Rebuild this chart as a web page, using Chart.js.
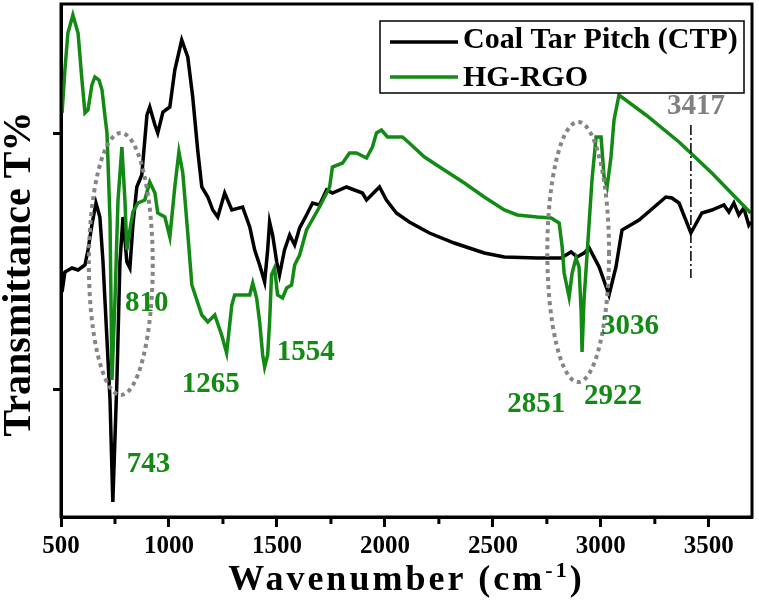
<!DOCTYPE html>
<html>
<head>
<meta charset="utf-8">
<title>FTIR - Coal Tar Pitch vs HG-RGO</title>
<script src="https://cdn.jsdelivr.net/npm/chart.js@4.4.1/dist/chart.umd.min.js"></script>
<style>
  body { margin: 0; background: #fff; }
  #wrap { width: 759px; height: 603px; }
</style>
</head>
<body>
<div id="wrap"><canvas id="ftir"></canvas></div>
<script>
// values (wavenumber in cm-1, transmittance in arbitrary units)
const wnCTP = [505, 518, 551, 579, 611, 625, 643, 662, 680, 694,
  713, 727, 740, 759, 773, 787, 805, 819, 833, 851,
  874, 898, 911, 935, 948, 972, 1004, 1027, 1059, 1087,
  1110, 1133, 1152, 1180, 1203, 1226, 1258, 1291, 1341, 1374,
  1397, 1420, 1443, 1457, 1466, 1480, 1499, 1512, 1535, 1559,
  1582, 1605, 1637, 1665, 1697, 1730, 1757, 1822, 1896, 1915,
  1975, 2007, 2053, 2113, 2206, 2321, 2460, 2553, 2705, 2816,
  2862, 2890, 2922, 2946, 2992, 3038, 3070, 3098, 3177, 3301,
  3329, 3362, 3417, 3468, 3514, 3570, 3593, 3616, 3639, 3662,
  3685, 3694];
const tCTP = [45, 49, 49.8, 49.4, 50.4, 53.4, 58.4, 62.8, 60, 51.4,
  35.4, 23.4, 3, 27.4, 51, 60, 51, 49.8, 58.4, 66,
  68.4, 80.4, 82, 78.4, 76.8, 81, 82, 89.4, 95.4, 92,
  84, 73.4, 66, 64, 61.4, 60, 64.8, 61.4, 62, 58,
  53.4, 50.4, 47, 53.4, 59, 56.4, 51, 48.4, 53.4, 56.4,
  54.4, 57.8, 60.4, 62.8, 62.4, 65.4, 64.8, 66, 64.8, 63.4,
  66, 63.4, 60.8, 59, 56.8, 54.8, 52.8, 52, 51.8, 51.8,
  53, 52, 52.8, 53.8, 50, 44.4, 50, 57.4, 59.4, 64,
  63.8, 62.8, 56.8, 60.8, 61.4, 62.4, 61, 62.8, 60.4, 61.8,
  58.4, 59];

const wnRGO = [505, 518, 532, 555, 579, 597, 611, 625, 643, 657,
  676, 690, 703, 713, 727, 736, 750, 764, 782, 796,
  805, 819, 833, 856, 888, 911, 935, 948, 981, 1004,
  1027, 1046, 1064, 1087, 1106, 1152, 1180, 1212, 1244, 1267,
  1291, 1304, 1374, 1388, 1406, 1420, 1434, 1443, 1457, 1466,
  1475, 1489, 1503, 1526, 1545, 1568, 1582, 1605, 1637, 1697,
  1744, 1757, 1804, 1836, 1868, 1915, 1942, 1961, 1984, 2012,
  2081, 2113, 2183, 2275, 2368, 2460, 2553, 2613, 2705, 2770,
  2807, 2821, 2830, 2853, 2867, 2885, 2899, 2909, 2913, 2922,
  2936, 2959, 2978, 3001, 3015, 3029, 3047, 3061, 3084, 3209,
  3362, 3514, 3694];
const tRGO = [80.8, 89.4, 96.8, 100.4, 96.8, 87.4, 80.8, 81.4, 86.4, 88,
  87.4, 85.4, 80.4, 76.8, 59.4, 27.4, 43.4, 63.4, 74, 63.4,
  53.4, 57.4, 61, 62.8, 63.4, 67, 64.8, 60.8, 60, 56,
  66, 73, 68.8, 56.8, 46.4, 40.4, 39, 40.4, 36.4, 32.8,
  42.4, 44.4, 44.4, 46.8, 43.8, 39, 32.4, 30, 32.4, 39,
  48.4, 49.8, 44.4, 43.8, 45.8, 46.4, 50.4, 52.4, 57.4, 62,
  66, 70, 70.8, 72.8, 72.8, 71.8, 74, 76.8, 77.4, 76,
  76, 74.8, 72, 69.4, 66.8, 64, 61.4, 60.4, 60, 59.8,
  58.8, 54, 48.8, 44, 48.8, 51.8, 50, 40.8, 33, 43.4,
  52.4, 67.4, 76, 76, 68, 66, 72, 79.4, 84.4, 80.4,
  75, 68.8, 60.8];

const xTicks = [500, 1000, 1500, 2000, 2500, 3000, 3500];
const xMinorTicks = [750, 1250, 1750, 2250, 2750, 3250];
const yTicks = [25.6, 76.8];

const GREEN = '#138a13';

// peak labels: text, where it sits (wavenumber, T), colour
const peaks = [
  { text: '810', wn: 796, t: 42.6, color: GREEN },
  { text: '743', wn: 805, t: 10.4, color: GREEN },
  { text: '1265', wn: 1059, t: 26.4, color: GREEN },
  { text: '1554', wn: 1499, t: 32.8, color: GREEN },
  { text: '2851', wn: 2566, t: 22.4, color: GREEN },
  { text: '2922', wn: 2922, t: 24, color: GREEN },
  { text: '3036', wn: 3001, t: 38, color: GREEN },
  { text: '3417', wn: 3306, t: 82, color: '#808080' },
];
// dotted ellipses round the peak groups
const circled = [
  { wn: 777, t: 50.6, dwn: 148, dt: 26.2 },
  { wn: 2895, t: 53, dwn: 143, dt: 26 },
];

function toPoints(xs, ys) {
  return xs.map((v, i) => ({ x: v, y: ys[i] }));
}

const ftirDecor = {
  id: 'ftirDecor',
  afterDatasetsDraw(chart) {
    const { ctx, scales: { x, y } } = chart;
    ctx.save();
    ctx.strokeStyle = '#858585';
    ctx.lineWidth = 4;
    ctx.setLineDash([4, 4]);
    circled.forEach((e) => {
      const cx = x.getPixelForValue(e.wn);
      const cy = y.getPixelForValue(e.t);
      const rx = x.getPixelForValue(e.wn + e.dwn) - cx;
      const ry = cy - y.getPixelForValue(e.t + e.dt);
      ctx.beginPath();
      ctx.ellipse(cx, cy, rx, ry, 0, 0, Math.PI * 2);
      ctx.stroke();
    });

    // dash-dot marker at 3417
    ctx.strokeStyle = '#000';
    ctx.lineWidth = 1.5;
    ctx.setLineDash([10, 3, 2, 3]);
    const px = x.getPixelForValue(3417);
    ctx.beginPath();
    ctx.moveTo(px, y.getPixelForValue(78.4));
    ctx.lineTo(px, y.getPixelForValue(47.8));
    ctx.stroke();

    ctx.setLineDash([]);
    ctx.font = 'bold 29px "Liberation Serif"';
    ctx.textAlign = 'left';
    ctx.textBaseline = 'middle';
    peaks.forEach((p) => {
      ctx.fillStyle = p.color;
      ctx.fillText(p.text, x.getPixelForValue(p.wn), y.getPixelForValue(p.t));
    });
    ctx.restore();
  },
  afterDraw(chart) {
    const { ctx, chartArea: a, scales: { x } } = chart;
    ctx.save();
    // frame
    ctx.strokeStyle = '#000';
    ctx.lineWidth = 3;
    ctx.strokeRect(a.left, a.top, a.right - a.left, a.bottom - a.top);
    // minor ticks
    xMinorTicks.forEach((v) => {
      const px = x.getPixelForValue(v);
      ctx.beginPath();
      ctx.moveTo(px, a.bottom);
      ctx.lineTo(px, a.bottom + 7);
      ctx.stroke();
    });

    // legend
    ctx.fillStyle = '#fff';
    ctx.fillRect(380, 21, 364, 72);
    ctx.lineWidth = 1.5;
    ctx.strokeRect(380, 21, 364, 72);
    ctx.lineWidth = 3.5;
    ctx.strokeStyle = '#000';
    ctx.beginPath(); ctx.moveTo(390, 42); ctx.lineTo(458, 42); ctx.stroke();
    ctx.strokeStyle = GREEN;
    ctx.beginPath(); ctx.moveTo(390, 77); ctx.lineTo(458, 77); ctx.stroke();
    ctx.fillStyle = '#000';
    ctx.font = 'bold 30px "Liberation Serif"';
    ctx.textAlign = 'left';
    ctx.textBaseline = 'middle';
    ctx.fillText('Coal Tar Pitch (CTP)', 463, 40);
    ctx.fillText('HG-RGO', 463, 78);

    // x title with superscript
    ctx.letterSpacing = '3px';
    ctx.font = 'bold 36px "Liberation Serif"';
    const main = 'Wavenumber (cm';
    const wMain = ctx.measureText(main).width;
    ctx.font = 'bold 22px "Liberation Serif"';
    const wSup = ctx.measureText('-1').width;
    ctx.font = 'bold 36px "Liberation Serif"';
    const wClose = ctx.measureText(')').width;
    let tx = (a.left + a.right) / 2 - (wMain + wSup + wClose) / 2;
    ctx.textBaseline = 'alphabetic';
    ctx.fillText(main, tx, 590);
    tx += wMain;
    ctx.font = 'bold 22px "Liberation Serif"';
    ctx.fillText('-1', tx, 577);
    tx += wSup;
    ctx.font = 'bold 36px "Liberation Serif"';
    ctx.fillText(')', tx, 590);

    // y title
    ctx.letterSpacing = '0px';
    ctx.translate(20, 274);
    ctx.rotate(-Math.PI / 2);
    ctx.font = 'bold 40px "Liberation Serif"';
    ctx.textAlign = 'center';
    ctx.textBaseline = 'middle';
    ctx.fillText('Transmittance T%', 0, 0);
    ctx.restore();
  },
};

new Chart(document.getElementById('ftir'), {
  type: 'line',
  data: {
    datasets: [
      {
        label: 'HG-RGO',
        data: toPoints(wnRGO, tRGO),
        borderColor: GREEN,
        borderWidth: 3.5,
        pointRadius: 0,
        tension: 0,
        order: 0,
      },
      {
        label: 'Coal Tar Pitch (CTP)',
        data: toPoints(wnCTP, tCTP),
        borderColor: '#000',
        borderWidth: 3.5,
        pointRadius: 0,
        tension: 0,
        order: 1,
      },
    ],
  },
  options: {
    responsive: true,
    maintainAspectRatio: false,
    animation: false,
    layout: { padding: { left: 0, top: 4, right: 7, bottom: 0 } },
    plugins: { legend: { display: false }, tooltip: { enabled: false } },
    scales: {
      x: {
        type: 'linear',
        min: 500,
        max: 3700,
        afterBuildTicks: (s) => { s.ticks = xTicks.map((v) => ({ value: v })); },
        afterFit: (s) => { s.height = 86; },
        grid: { drawOnChartArea: false, tickLength: 10, tickWidth: 3, tickColor: '#000' },
        border: { color: '#000', width: 3 },
        ticks: {
          color: '#000',
          padding: 5,
          maxRotation: 0,
          callback: (v) => String(v),
          font: { family: 'Liberation Serif', size: 25, weight: 'bold' },
        },
      },
      y: {
        min: 0,
        max: 102.6,
        afterBuildTicks: (s) => { s.ticks = yTicks.map((v) => ({ value: v })); },
        afterFit: (s) => { s.width = 61; },
        grid: { drawOnChartArea: false, tickLength: 8, tickWidth: 3, tickColor: '#000' },
        border: { color: '#000', width: 3 },
        ticks: { display: false },
      },
    },
  },
  plugins: [ftirDecor],
});
</script>
</body>
</html>
